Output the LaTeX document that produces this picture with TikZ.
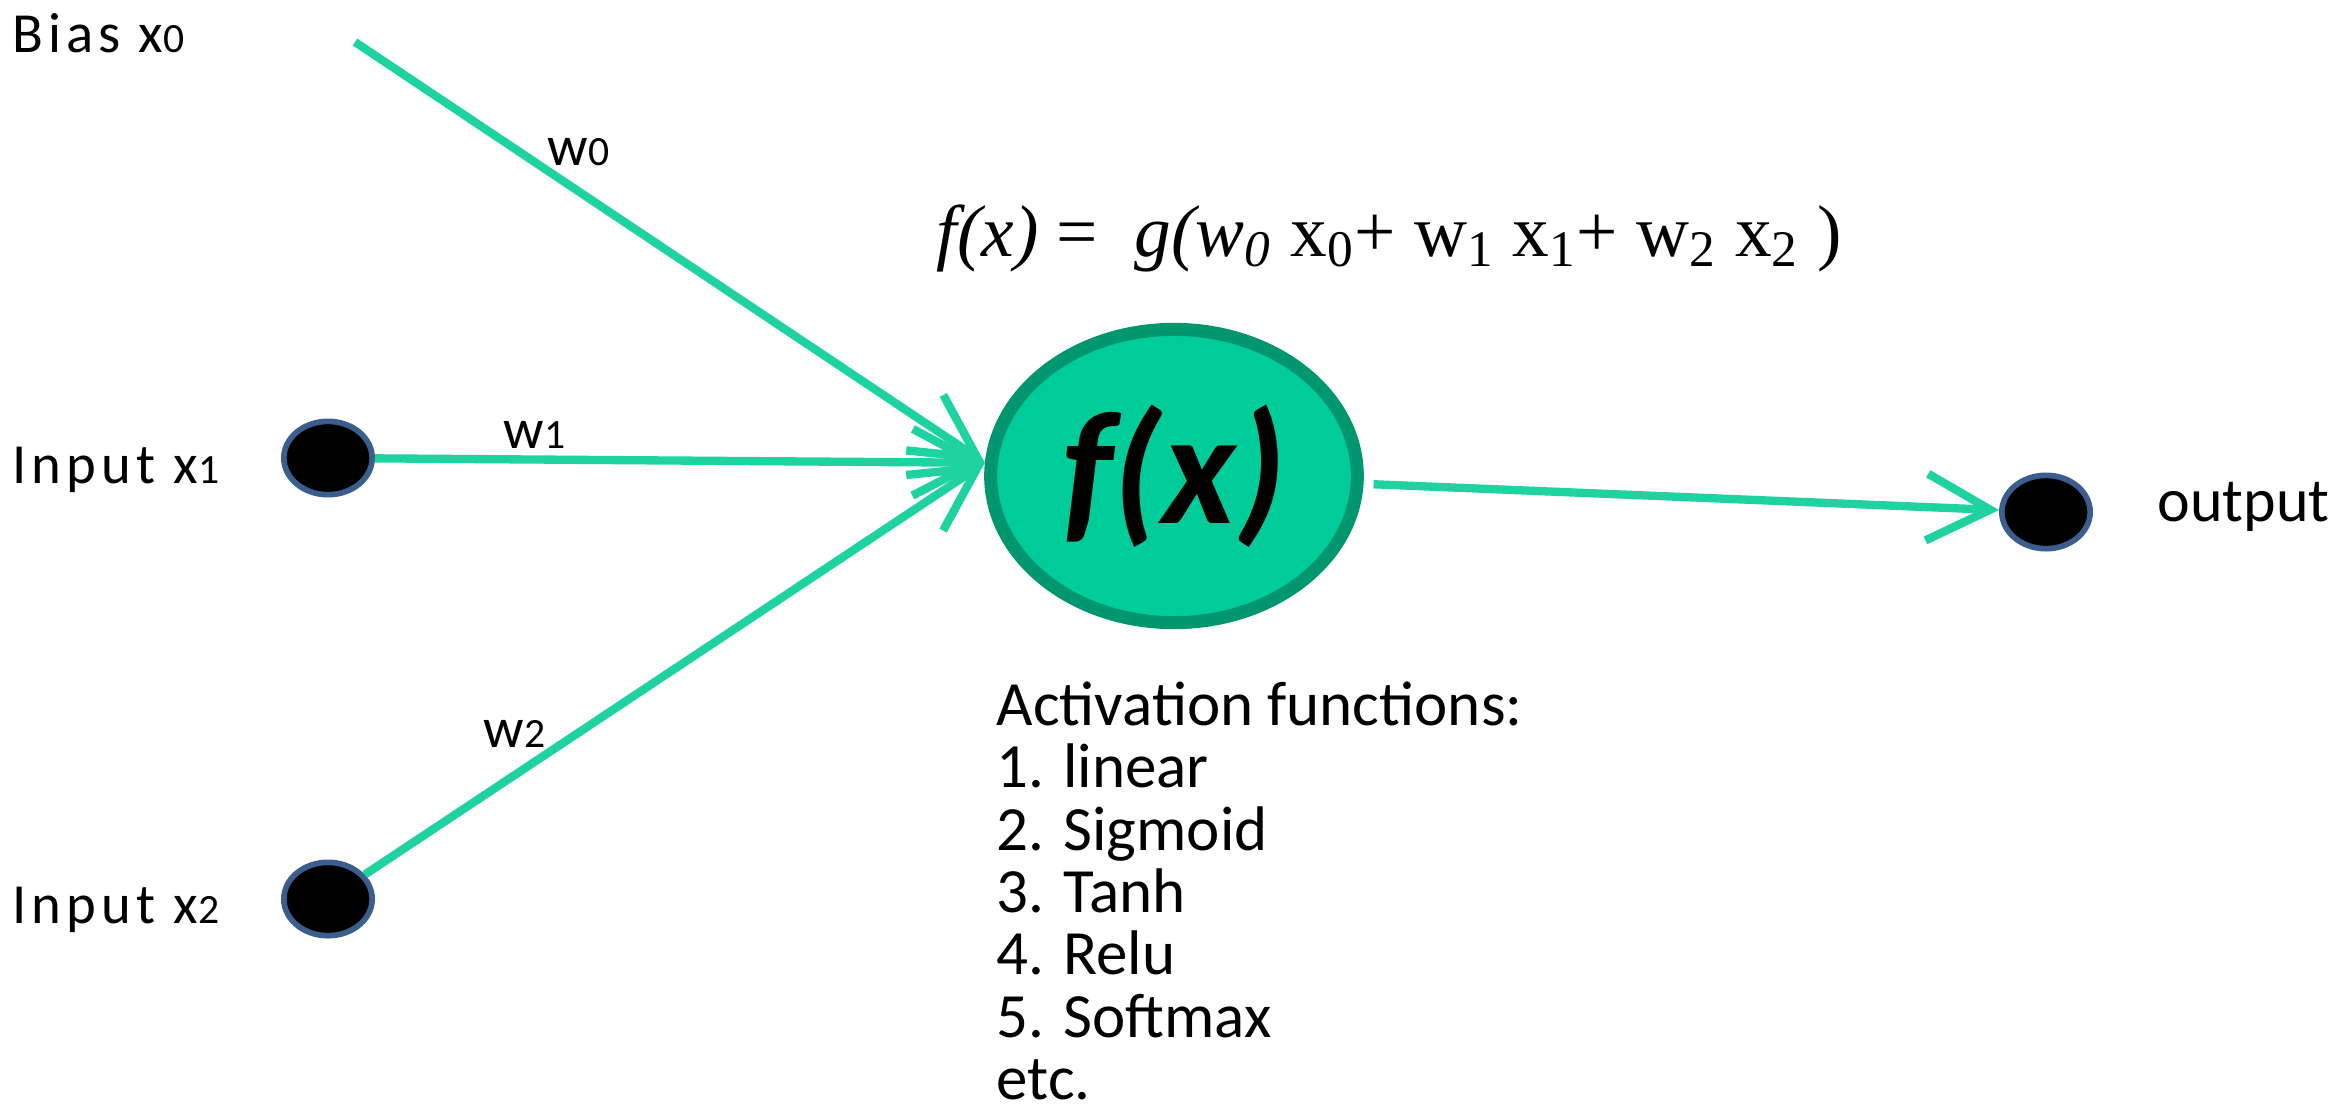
\documentclass[tikz,border=0pt]{standalone}
\usepackage{fontspec}
\setmainfont{Carlito}
\newfontfamily\labelfont[LetterSpace=9]{Carlito}
\newfontfamily\formfont{Liberation Serif}
\usetikzlibrary{arrows.meta,shapes.geometric}
\definecolor{edgegreen}{HTML}{1ED3A0}
\definecolor{cellfill}{HTML}{00CC99}
\definecolor{celldraw}{HTML}{00966F}
\definecolor{dotrim}{HTML}{3B5E8C}
\newcommand\smalldig[1]{{\fontsize{12.5pt}{12.5pt}\selectfont #1}}
\begin{document}
\begin{tikzpicture}[x=0.3pt,y=-0.3pt,
  conn/.style={draw=edgegreen, line width=2.5pt, -{Straight Barb[length=19pt,width=20pt]}},
  dotnode/.style={ellipse, draw=dotrim, fill=black, line width=1.7pt, minimum width=26.5pt, minimum height=22pt, inner sep=0pt},
  cell/.style={ellipse, draw=celldraw, fill=cellfill, line width=3.9pt, minimum width=110pt, minimum height=88pt, inner sep=0pt},
  lbl/.style={font={\labelfont\fontsize{17pt}{20pt}\selectfont}, inner sep=0pt, anchor=base west},
  outlbl/.style={font={\fontsize{18.6pt}{22pt}\selectfont}, inner sep=0pt, anchor=base west},
  act/.style={font={\fontsize{18.9pt}{22pt}\selectfont}, inner sep=0pt, anchor=base west},
  formula/.style={font={\formfont\fontsize{22pt}{26pt}\selectfont}, inner sep=0pt, anchor=base west}]
\useasboundingbox (0,0) rectangle (2348,1113);

\node[cell, font={\bfseries\itshape\fontsize{48pt}{48pt}\selectfont}] (fx) at (1174,476) {f(x)};
\node[dotnode] (in1) at (328,458) {};
\node[dotnode] (in2) at (328,899) {};
\node[dotnode] (out) at (2046,512) {};
\coordinate (bias) at (355,42);

\draw[conn] (bias) -- (fx.176);
\draw[conn] (in1) -- (fx.176);
\draw[conn] (in2) -- (fx.176);
\draw[conn, shorten <=3pt] (fx) -- (out);

\node[lbl] (tbias) at (12,52) {Bias x\smalldig{0}};
\node[lbl] (tin1) at (12,483) {Input x\smalldig{1}};
\node[lbl] (tin2) at (12,923) {Input x\smalldig{2}};
\node[lbl] (tw0) at (547,165) {w\smalldig{0}};
\node[lbl] (tw1) at (503,448) {w\smalldig{1}};
\node[lbl] (tw2) at (483,747) {w\smalldig{2}};
\node[outlbl] (tout) at (2157,521) {output};

\node[formula] (form) at (936,256) {\textit{f(x)} =~~\textit{g(w\textsubscript{0}}~x\textsubscript{0}+ w\textsubscript{1} x\textsubscript{1}+ w\textsubscript{2} x\textsubscript{2} )};

\node[act] (a0) at (996,725) {Activation functions:};
\node[act] (a1) at (996,787) {1. linear};
\node[act] (a2) at (996,850) {2. Sigmoid};
\node[act] (a3) at (996,912) {3. Tanh};
\node[act] (a4) at (996,974) {4. Relu};
\node[act] (a5) at (996,1037) {5. Softmax};
\node[act] (a6) at (996,1099) {etc.};
\end{tikzpicture}
\end{document}
